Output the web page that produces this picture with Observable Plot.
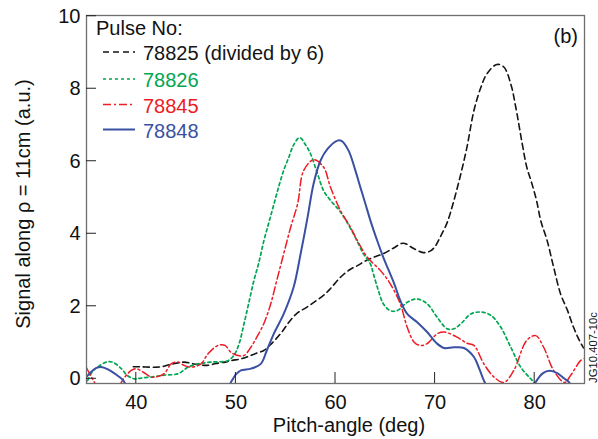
<!DOCTYPE html>
<html><head><meta charset="utf-8">
<script src="https://cdn.jsdelivr.net/npm/d3@7"></script>
<script src="https://cdn.jsdelivr.net/npm/@observablehq/plot@0.6"></script>
<style>body{margin:0;background:#fff}svg{display:block}</style>
</head><body><div id="chart"></div>
<script>
const pulseNames = ["78825 (divided by 6)", "78826", "78845", "78848"];
const pulseColors = ["#151515", "#00a651", "#ed1c24", "#3a50a2"];
const xTicks = [40, 50, 60, 70, 80];
const yTicks = [0, 2, 4, 6, 8, 10];

const black_x = [39.7,40.5,41.5,42.5,43.2,44,44.8,45.8,47.1,48,48.9,49.5,50.5,51.1,52,52.8,53.5,54.5,55.3,56.1,57.1,58.1,59,59.5,60.5,61.5,62.2,63,63.8,64.8,65.8,66.8,67.8,68.8,69.5,70,70.5,71.2,71.8,72.5,73.2,73.9,74.6,75.2,76.2,76.9,77.6,78.1,78.75,79.2,79.7,80.2,80.6,81.25,81.9,82.6,83.3,83.9,84.5,84.9];
const black_y = [0.33,0.33,0.32,0.33,0.38,0.43,0.46,0.41,0.37,0.42,0.46,0.5,0.55,0.6,0.7,0.78,0.95,1.25,1.55,1.8,1.97,2.16,2.35,2.49,2.8,3.02,3.12,3.25,3.35,3.45,3.6,3.74,3.6,3.48,3.52,3.65,3.9,4.3,4.83,5.56,6.39,7.4,8.04,8.41,8.67,8.6,8.13,7.49,6.48,5.84,5.4,4.9,4.37,3.81,3.08,2.34,1.88,1.42,1.05,0.85];

const green_x = [35.1,35.6,36.1,37.0,37.6,38.5,39.1,39.8,40.5,41.5,42.8,44.2,45.2,46.2,47.5,49.2,49.8,50.3,50.8,51.3,51.8,52.3,52.8,53.3,53.8,54.3,54.8,55.3,55.8,56.4,57,57.5,58.2,58.8,59.5,60.5,61.8,62.8,63.5,63.8,64.3,64.8,65.5,66.2,67.2,68.2,69.2,70.2,71.2,71.9,72.6,73.6,74.6,75.6,76.6,77.6,78.6,79.6,80.1];
const green_y = [-0.05,0.2,0.32,0.46,0.46,0.28,0.09,0.0,0.02,0.05,0.1,0.14,0.32,0.41,0.46,0.5,0.65,0.95,1.5,2.1,2.7,3.2,3.8,4.3,4.8,5.3,5.75,6.1,6.45,6.65,6.45,6.2,5.65,5.19,4.92,4.6,4.0,3.45,3.17,2.9,2.44,2.07,1.88,1.88,2.11,2.2,2.07,1.7,1.38,1.38,1.52,1.79,1.84,1.75,1.42,0.87,0.32,0.0,-0.15];

const red_x = [35,35.3,35.7,36.0,null,38.3,38.6,39.0,39.5,40,40.7,41.5,42,42.8,43.5,44.2,44.8,45.5,46.5,47.2,48.2,48.9,49.5,50.1,50.8,51.5,52.1,52.8,53.5,54.1,54.8,55.5,56.2,56.8,57.8,58.8,59.5,60.5,61.5,62.2,63.2,64.5,65.5,66.5,67.2,67.9,68.5,69.2,70.2,70.9,72.2,73.2,73.9,74.9,75.9,76.9,77.9,79.2,80.1,80.9,81.9,83.0,83.6,84.6,85];
const red_y = [0.3,0.15,-0.05,-0.2,null,-0.2,-0.05,0.1,0.23,0.28,0.18,0.05,0.05,0.14,0.41,0.46,0.37,0.32,0.41,0.69,0.92,0.92,0.73,0.65,0.64,0.87,1.15,1.52,2.07,2.71,3.45,4.18,4.83,5.74,6.04,5.84,5.28,4.64,4.18,3.81,3.35,2.99,2.62,2.07,1.42,1.01,0.92,0.97,1.24,1.29,1.15,0.98,0.92,0.41,0.05,-0.1,0.23,1.06,1.19,0.87,0.23,-0.1,0.09,0.5,0.56];

const blue_x = [35,35.5,36.0,36.6,37.2,37.8,38.3,38.7,39.0,null,49.3,49.6,50.0,50.5,51.5,52.5,53.1,53.8,54.8,55.8,56.5,57.2,57.8,58.5,59.2,60.2,60.6,61.3,62,62.5,63,63.5,64.2,64.8,65.9,66.5,67.2,68.2,69.2,70.2,70.9,71.9,72.9,73.9,74.4,74.9,75.2,null,79.9,80.2,80.8,81.5,82.3,83.0,83.4,83.7];
const blue_y = [0.05,0.2,0.3,0.32,0.25,0.15,0.05,-0.05,-0.2,null,-0.2,-0.05,0.12,0.23,0.28,0.41,0.78,1.24,1.79,2.53,3.45,4.46,5.38,6.02,6.34,6.57,6.56,6.3,5.74,5.28,4.83,4.37,3.8,3.35,2.62,2.16,1.79,1.56,1.29,0.97,0.85,0.87,0.85,0.6,0.3,-0.05,-0.2,null,-0.2,-0.05,0.15,0.22,0.15,0.0,-0.08,-0.2];

const toRows = (xs, ys) => xs.map((x, i) => ({x, y: ys[i]}));
const series = [
  {rows: toRows(black_x, black_y), dash: "6,4", w: 1.6},
  {rows: toRows(green_x, green_y), dash: "3,3", w: 1.7},
  {rows: toRows(red_x, red_y), dash: "8,3,2,3", w: 1.5},
  {rows: toRows(blue_x, blue_y), dash: null, w: 2}
];

const chart = Plot.plot({
  width: 598, height: 439,
  marginLeft: 86, marginRight: 14, marginTop: 15, marginBottom: 56,
  style: {fontFamily: "'Liberation Sans', Arial, sans-serif", fontSize: "20px", color: "#111", background: "#fff"},
  x: {domain: [35, 85]},
  y: {domain: [-0.13, 10.02]},
  marks: [
    Plot.axisX({ticks: xTicks, tickSize: 0, tickPadding: 11, label: null}),
    Plot.axisY({ticks: yTicks, tickSize: 0, tickPadding: 6, label: null}),
    ...series.map((s, i) => Plot.line(s.rows, {x: "x", y: "y", stroke: pulseColors[i], strokeWidth: s.w, strokeDasharray: s.dash, curve: "catmull-rom", clip: true})),
    Plot.frame({stroke: "#6e6e6e", strokeWidth: 1.3})
  ]
});
document.getElementById("chart").append(chart);

const sx = chart.scale("x"), sy = chart.scale("y");
const svg = d3.select(chart);
const F = "'Liberation Sans', Arial, sans-serif";
const yBottom = sy.apply(sy.domain[0]);
const xLeft = sx.apply(sx.domain[0]);
const ticks = svg.append("g").attr("stroke", "#222").attr("stroke-width", 1);
xTicks.forEach(v => {
  const px = sx.apply(v);
  ticks.append("line").attr("x1", px).attr("x2", px).attr("y1", yBottom).attr("y2", yBottom - 11);
});
yTicks.forEach(v => {
  const py = sy.apply(v);
  ticks.append("line").attr("x1", xLeft).attr("x2", xLeft + 10).attr("y1", py).attr("y2", py);
});

function txt(x, y, s, opts = {}) {
  return svg.append("text").attr("x", x).attr("y", y).attr("text-anchor", opts.anchor || "start")
    .attr("font-family", F).attr("font-size", opts.size || 20).attr("fill", opts.fill || "#111").text(s);
}
txt(349, 432, "Pitch-angle (deg)", {anchor: "middle"});
svg.append("text").attr("transform", "translate(30,204) rotate(-90)").attr("text-anchor", "middle")
  .attr("font-family", F).attr("font-size", 20).attr("fill", "#111").text("Signal along \u03c1 = 11cm (a.u.)");
txt(578, 43, "(b)", {anchor: "end"});
svg.append("text").attr("transform", "translate(596.5,383) rotate(-90)").attr("text-anchor", "start")
  .attr("font-family", F).attr("font-size", 11.3).attr("fill", "#111").text("JG10.407-10c");
txt(96, 35, "Pulse No:");
const baselines = [60, 87, 112.5, 137.5];
pulseNames.forEach((name, i) => {
  const s = series[i];
  svg.append("line").attr("x1", 103).attr("x2", 135).attr("y1", baselines[i] - 8).attr("y2", baselines[i] - 8)
    .attr("stroke", pulseColors[i]).attr("stroke-width", s.w).attr("stroke-dasharray", s.dash);
  txt(143, baselines[i], name, {fill: pulseColors[i]});
});
</script></body></html>
